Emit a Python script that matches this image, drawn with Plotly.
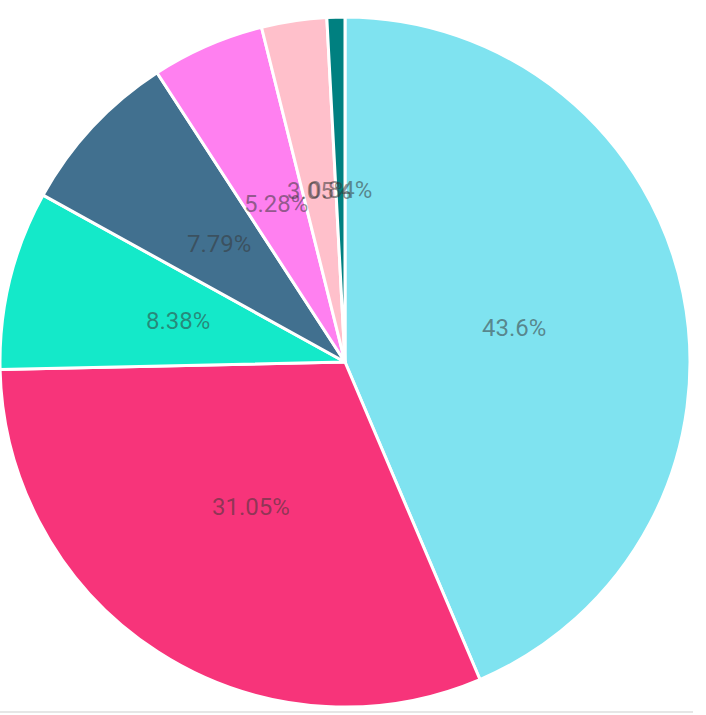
import numpy as np
import plotly.graph_objects as go

labels = ["A", "B", "C", "D", "E", "F", "G"]
values = [43.6, 31.05, 8.38, 7.79, 5.28, 3.05, 0.84]
text_labels = ["43.6%", "31.05%", "8.38%", "7.79%", "5.28%", "3.05%", "0.84%"]
colors = ["#7FE3F0", "#F7347A", "#14E9C9", "#41708F", "#FF80F0", "#FFC0CB", "#008080"]

W, H = 706, 715
CX, CY, R = 345, 362, 345  # pie centre / radius in pixels (layout)

fig = go.Figure(go.Pie(
    labels=labels,
    values=values,
    textinfo="none",
    sort=False,
    direction="clockwise",
    rotation=0,
    marker=dict(colors=colors, line=dict(color="white", width=3)),
    domain=dict(x=[(CX - R) / W, (CX + R) / W], y=[1 - (CY + R) / H, 1 - (CY - R) / H]),
    hoverinfo="none",
))

# labels at half radius along each slice's mid-angle (derived from data)
vals = np.array(values, dtype=float)
cum = np.cumsum(vals) - vals / 2
ang = cum / vals.sum() * 2 * np.pi
annotations = []
for t, a in zip(text_labels, ang):
    px = CX + 0.5 * R * np.sin(a)
    py = CY - 0.5 * R * np.cos(a)
    annotations.append(dict(x=px / W, y=1 - py / H, xref="paper", yref="paper",
                            text=t, showarrow=False, xanchor="center", yanchor="middle",
                            font=dict(family="Roboto", size=24, color="rgba(55,55,55,0.55)")))

fig.update_layout(
    width=W, height=H,
    margin=dict(l=0, r=0, t=0, b=0),
    showlegend=False,
    paper_bgcolor="white",
    annotations=annotations,
    shapes=[dict(type="line", xref="paper", yref="paper", x0=0.0, x1=693 / W,
                 y0=1 - 712 / H, y1=1 - 712 / H, line=dict(color="#e6e6e6", width=2))],
)
fig.write_html("out.html", config={"displayModeBar": False},
               post_script="document.body.style.margin='0px';")
